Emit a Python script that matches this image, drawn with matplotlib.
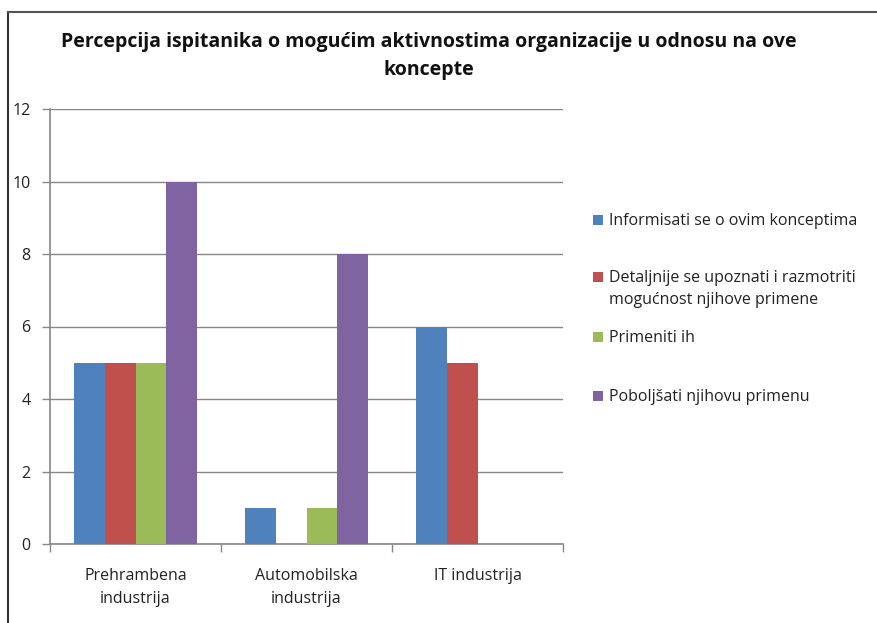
import matplotlib.pyplot as plt
import numpy as np
from matplotlib.lines import Line2D
from matplotlib.patches import Rectangle

# chart data
categories = ['Prehrambena\nindustrija', 'Automobilska\nindustrija', 'IT industrija']
series_names = ['Informisati se o ovim konceptima',
                'Detaljnije se upoznati i razmotriti\nmogućnost njihove primene',
                'Primeniti ih',
                'Poboljšati njihovu primenu']
informisati = [5, 1, 6]
detaljnije = [5, 0, 5]
primeniti = [5, 1, 0]
poboljsati = [10, 8, 0]
colors = ['#4F81BD', '#C0504D', '#9BBB59', '#8064A2']

plt.rcParams['font.family'] = ['Open Sans', 'DejaVu Sans']

W, H = 877, 623
fig = plt.figure(figsize=(W / 100, H / 100), dpi=100)
ax = fig.add_axes([50 / W, 1 - 544 / H, 513 / W, 435 / H])

x = np.arange(len(categories))
width = 0.181
values = [informisati, detaljnije, primeniti, poboljsati]
for i, vals in enumerate(values):
    ax.bar(x + (i - 1.5) * width, vals, width, color=colors[i], zorder=3,
           label=series_names[i])

ax.set_xlim(-0.5, 2.5)
ax.set_ylim(0, 12)
ax.set_yticks(range(0, 13, 2))
ax.yaxis.grid(True, color='#868686', linewidth=1)
ax.set_axisbelow(True)

ax.set_xticks(x)
ax.set_xticklabels(categories, fontsize=11.5, color='#222222', linespacing=1.6)
ax.set_xticks([-0.5, 0.5, 1.5, 2.5], minor=True)
ax.tick_params(axis='x', which='major', length=0, pad=17)
ax.tick_params(axis='x', which='minor', length=6, color='#868686', width=1)
ax.tick_params(axis='y', length=6, color='#868686', width=1, pad=8,
               labelsize=11.5, labelcolor='#222222')

for s in ['top', 'right']:
    ax.spines[s].set_visible(False)
for s in ['left', 'bottom']:
    ax.spines[s].set_color('#868686')
    ax.spines[s].set_linewidth(1.2)

fig.text(429 / W, 1 - 56 / H,
         'Percepcija ispitanika o mogućim aktivnostima organizacije u odnosu na ove\nkoncepte',
         ha='center', va='center', fontsize=14, fontweight='bold',
         linespacing=1.55, color='#111111')

# legend, laid out like the Excel one
legend_y = [220, 277, 337, 396]
for name, col, yy in zip(series_names, colors, legend_y):
    fig.add_artist(Rectangle((593 / W, 1 - (yy + 5) / H), 10 / W, 10 / H,
                             facecolor=col, edgecolor='none'))
    fig.text(609 / W, 1 - (yy - 7) / H, name, ha='left', va='top',
             fontsize=11.5, color='#222222', linespacing=1.5)

# chart frame (left and top edges)
fig.add_artist(Line2D([8 / W, 8 / W], [0, 1 - 12 / H], color='#333333', lw=1.5))
fig.add_artist(Line2D([8 / W, 1], [1 - 12 / H, 1 - 12 / H], color='#555555', lw=1.5))

fig.savefig('out.png', dpi=100)
